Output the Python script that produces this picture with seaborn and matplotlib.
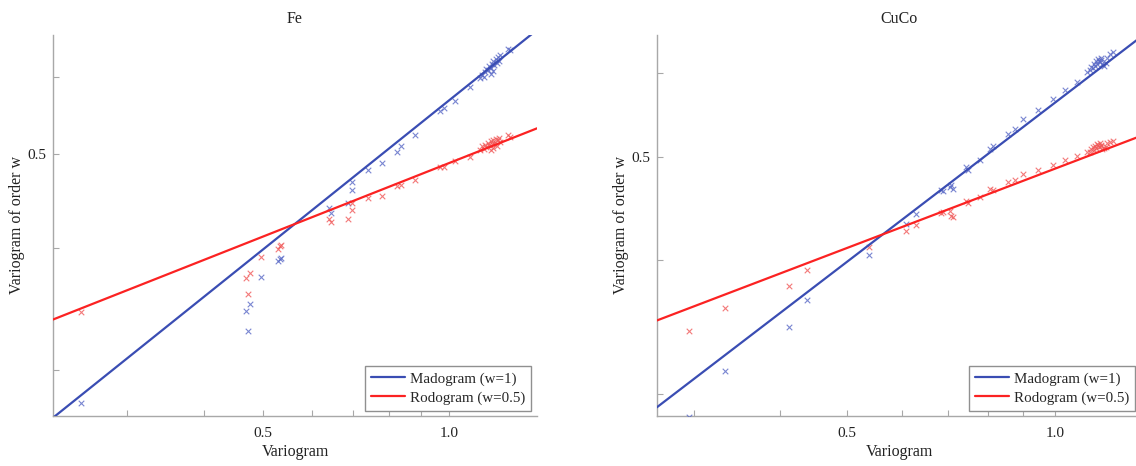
import numpy as np
import pandas as pd
import matplotlib
matplotlib.use("Agg")
import matplotlib.pyplot as plt
import seaborn as sns

# ---------------- data ----------------
# Fe panel: variogram (x), madogram w=1 (blue), rodogram w=0.5 (red)
fe_variogram = [0.2527, 0.468, 0.4727, 0.4765, 0.4957, 0.5277, 0.5322, 0.5343,
                0.6397, 0.6426, 0.6861, 0.6951, 0.6955, 0.7398, 0.7776, 0.8226,
                0.8359, 0.8807, 0.9669, 0.9815, 1.0226, 1.081,
                1.122, 1.13, 1.138, 1.145, 1.15, 1.158, 1.163, 1.17, 1.175,
                1.18, 1.185, 1.19, 1.195, 1.2, 1.205, 1.21, 1.168, 1.178,
                1.2462, 1.2554]
fe_madogram = [0.2772, 0.345, 0.3293, 0.3504, 0.3738, 0.3879, 0.3901, 0.3913,
               0.44, 0.435, 0.4453, 0.4592, 0.4683, 0.4817, 0.4889, 0.5018,
               0.5098, 0.5233, 0.5535, 0.557, 0.567, 0.5852,
               0.598, 0.603, 0.600, 0.606, 0.611, 0.609, 0.615, 0.612, 0.618,
               0.622, 0.616, 0.625, 0.620, 0.628, 0.623, 0.631, 0.604, 0.608,
               0.6412, 0.6383]
fe_rodogram = [0.3439, 0.3729, 0.3591, 0.377, 0.3916, 0.3997, 0.4023, 0.4035,
               0.4288, 0.4253, 0.4291, 0.4381, 0.4453, 0.4507, 0.4521, 0.4629,
               0.464, 0.4695, 0.4844, 0.4852, 0.491, 0.4959,
               0.505, 0.509, 0.506, 0.511, 0.508, 0.513, 0.510, 0.515, 0.512,
               0.516, 0.513, 0.518, 0.509, 0.516, 0.519, 0.514, 0.505, 0.507,
               0.5229, 0.5208]

# CuCo panel
cuco_variogram = [0.2951, 0.3323, 0.4119, 0.4375, 0.5381, 0.6082, 0.6288, 0.685,
                  0.688, 0.7042, 0.7083, 0.7121, 0.7447, 0.7487, 0.7785, 0.8049,
                  0.8139, 0.8556, 0.8749, 0.8995, 0.9458, 0.9943, 1.034, 1.075,
                  1.1115,
                  1.124, 1.13, 1.135, 1.14, 1.143, 1.148, 1.152, 1.155, 1.158,
                  1.162, 1.165, 1.168, 1.172, 1.178, 1.185, 1.19,
                  1.2013, 1.2145]
cuco_madogram = [0.2855, 0.3147, 0.3461, 0.3674, 0.4051, 0.4329, 0.4423, 0.4661,
                 0.4644, 0.4684, 0.4704, 0.4664, 0.4894, 0.4859, 0.4972, 0.5092,
                 0.5117, 0.5252, 0.5317, 0.5433, 0.554, 0.5673, 0.5775, 0.5879,
                 0.601,
                 0.604, 0.608, 0.606, 0.612, 0.609, 0.615, 0.611, 0.618, 0.616,
                 0.614, 0.619, 0.617, 0.612, 0.609, 0.613, 0.620,
                 0.6254, 0.6275]
cuco_rodogram = [0.3436, 0.3611, 0.3781, 0.3916, 0.4117, 0.4267, 0.4319, 0.4429,
                 0.4445, 0.4448, 0.4407, 0.4391, 0.4545, 0.4525, 0.4584, 0.4671,
                 0.4654, 0.4738, 0.4762, 0.4817, 0.4866, 0.4919, 0.4965, 0.5008,
                 0.5055,
                 0.506, 0.509, 0.511, 0.508, 0.512, 0.510, 0.514, 0.513, 0.511,
                 0.515, 0.513, 0.512, 0.509, 0.510, 0.511, 0.515,
                 0.5165, 0.5177]

# fitted power-law lines (end points in data units)
fe_fit_x = [0.228, 1.389]
fe_mado_fit = [0.268, 0.670]
fe_rodo_fit = [0.338, 0.531]
cuco_fit_x = [0.265, 1.333]
cuco_mado_fit = [0.2912, 0.6484]
cuco_rodo_fit = [0.3513, 0.5235]

panel_titles = ["Fe", "CuCo"]
x_ticks = [0.3, 0.4, 0.5, 0.6, 0.7, 0.8, 0.9, 1.0]
x_tick_labels = ["", "", "0.5", "", "", "", "", "1.0"]
y_ticks = [0.3, 0.4, 0.5, 0.6]
y_tick_labels = ["", "", "0.5", ""]
legend_labels = ["Madogram (w=1)", "Rodogram (w=0.5)"]
x_label = "Variogram"
y_label = "Variogram of order w"

# ---------------- style ----------------
sns.set_theme(style="white")
plt.rcParams["font.family"] = ["Liberation Serif", "DejaVu Serif"]

BLUE_LINE = "#3a4db3"
RED_LINE = "#fb2222"
BLUE_PT = "#5868c6"
RED_PT = "#f05858"
SPINE = "#a8a8a8"
TXT = "#222222"

W, H = 1136, 466
fig = plt.figure(figsize=(W / 100, H / 100), dpi=100)

ax_l = fig.add_axes([53 / W, (H - 415.7) / H, 484 / W, 380.7 / H])
ax_r = fig.add_axes([657 / W, (H - 415.7) / H, 484 / W, 380.7 / H])

panels = [
    (ax_l, fe_variogram, fe_madogram, fe_rodogram, fe_fit_x, fe_mado_fit, fe_rodo_fit,
     (0.228, 1.389), (0.2693, 0.662)),
    (ax_r, cuco_variogram, cuco_madogram, cuco_rodogram, cuco_fit_x, cuco_mado_fit,
     cuco_rodo_fit, (0.2652, 1.333), (0.286, 0.651)),
]

for i, (ax, xv, mv, rv, fx, mfit, rfit, xl, yl) in enumerate(panels):
    df = pd.DataFrame({"variogram": xv, "mado": mv, "rodo": rv})
    ax.set_xscale("log")
    ax.set_yscale("log")
    sns.scatterplot(data=df, x="variogram", y="mado", marker="x", s=16,
                    color=BLUE_PT, linewidth=0.8, alpha=0.8, ax=ax, legend=False,
                    clip_on=True, zorder=3)
    sns.scatterplot(data=df, x="variogram", y="rodo", marker="x", s=16,
                    color=RED_PT, linewidth=0.8, alpha=0.8, ax=ax, legend=False,
                    clip_on=True, zorder=3)
    fit = pd.DataFrame({"x": fx, "m": mfit, "r": rfit})
    sns.lineplot(data=fit, x="x", y="m", color=BLUE_LINE, linewidth=1.6, ax=ax,
                 label=legend_labels[0], zorder=4)
    sns.lineplot(data=fit, x="x", y="r", color=RED_LINE, linewidth=1.6, ax=ax,
                 label=legend_labels[1], zorder=4)

    ax.set_xlim(*xl)
    ax.set_ylim(*yl)
    ax.xaxis.set_minor_locator(matplotlib.ticker.NullLocator())
    ax.yaxis.set_minor_locator(matplotlib.ticker.NullLocator())
    ax.set_xticks(x_ticks)
    ax.set_xticklabels(x_tick_labels)
    ax.set_yticks(y_ticks)
    ax.set_yticklabels(y_tick_labels)
    ax.tick_params(axis="both", which="both", direction="in", length=4, width=0.8,
                   color=SPINE, labelsize=11, labelcolor=TXT, pad=5,
                   bottom=True, left=True, top=False, right=False)
    ax.tick_params(axis="x", pad=8)

    for side in ["top", "right"]:
        ax.spines[side].set_visible(False)
    for side in ["left", "bottom"]:
        ax.spines[side].set_color(SPINE)
        ax.spines[side].set_linewidth(1.0)

    ax.set_xlabel(x_label, fontsize=11.5, color=TXT)
    ax.set_ylabel(y_label, fontsize=11.5, color=TXT)
    ax.xaxis.set_label_coords(0.5, -(452 - 415.7) / 380.7)
    ax.xaxis.label.set_verticalalignment("center")
    ax.yaxis.set_label_coords(-36 / 484, 0.5)
    ax.yaxis.label.set_verticalalignment("center")
    ax.set_title(panel_titles[i], fontsize=11.5, color=TXT, pad=9)

    leg = ax.legend(loc="lower right", bbox_to_anchor=(1 - 6 / 484, 5 / 380.7),
                    borderaxespad=0, fontsize=10.8, frameon=True, fancybox=False,
                    framealpha=1, edgecolor="#909090", handlelength=2.3,
                    handletextpad=0.3, labelspacing=0.35, borderpad=0.4)
    leg.get_frame().set_linewidth(1.0)

fig.savefig("out.png", dpi=100)
